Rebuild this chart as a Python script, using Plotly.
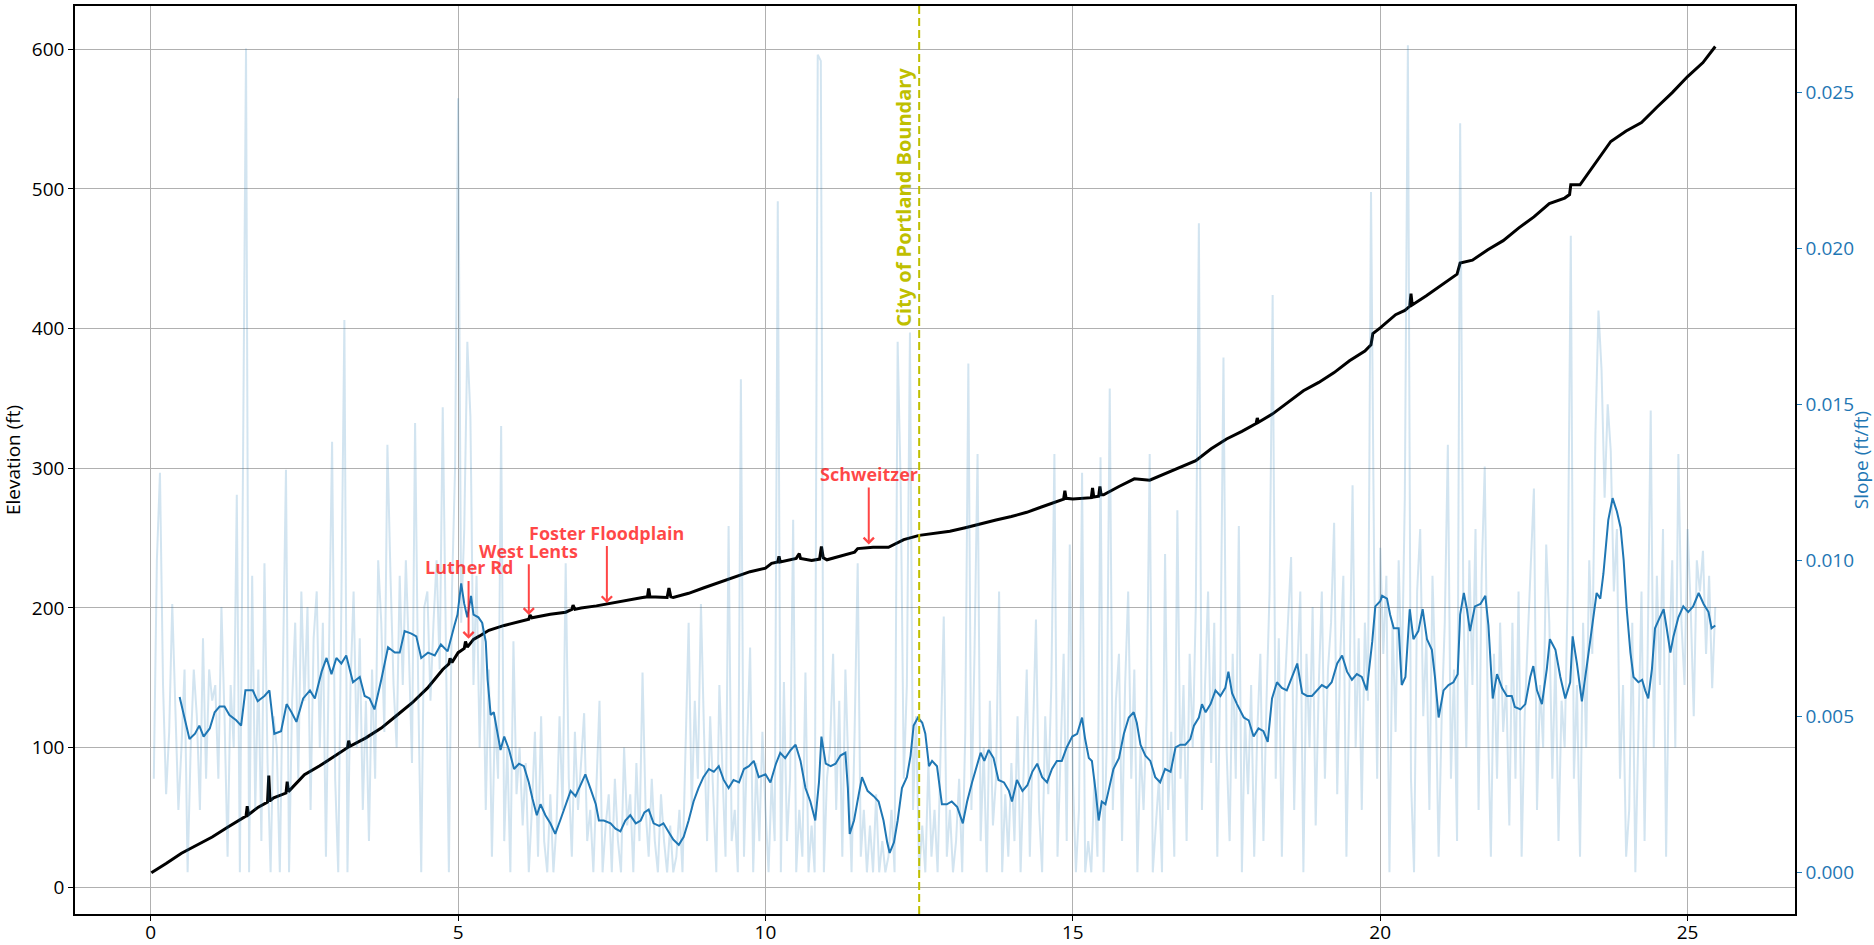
import numpy as np
import plotly.graph_objects as go

# ---------------- data ----------------
# Elevation profile along the route (miles, ft)
elev_x = [0.01,0.25,0.5,0.75,1.0,1.25,1.45,1.55,1.57,1.59,1.75,1.90,1.92,1.94,2.0,
          2.2,2.22,2.24,2.5,2.75,3.0,3.2,3.22,3.24,3.5,3.75,4.0,4.25,4.5,4.75,
          4.85,4.87,4.9,5.0,5.1,5.12,5.15,5.25,5.35,5.5,5.75,6.0,6.15,6.17,6.2,
          6.5,6.75,6.85,6.87,6.9,7.0,7.25,7.5,7.75,8.0,8.08,8.1,8.12,8.4,8.43,
          8.46,8.5,8.75,9.0,9.25,9.5,9.75,10.0,10.1,10.2,10.22,10.24,10.4,10.5,10.55,
          10.57,10.75,10.88,10.91,10.94,11.0,11.25,11.45,11.5,11.75,12.0,12.25,12.5,12.75,13.0,
          13.25,13.5,13.75,14.0,14.25,14.5,14.75,14.85,14.87,14.89,15.0,15.25,15.3,15.32,15.34,
          15.42,15.44,15.46,15.5,15.75,16.0,16.25,16.5,16.75,17.0,17.25,17.5,17.75,17.98,18.0,
          18.02,18.25,18.5,18.75,19.0,19.25,19.5,19.75,19.85,19.88,20.0,20.25,20.4,20.48,20.5,
          20.52,20.75,21.0,21.25,21.3,21.5,21.75,22.0,22.25,22.5,22.75,23.0,23.08,23.1,23.25,
          23.5,23.75,24.0,24.25,24.5,24.75,25.0,25.25,25.45]
elev_ft = [10.5,17,24.4,30,36,43,48.5,51,58,52,57.4,61,80,62,64,
           67.5,75.6,68.5,80.6,87,94.2,100,105,101,107,114,123,132,142.6,156,
           160,164,161,168,171,176,172,177.5,180,184,187.5,190.3,192,195,193,
           195.5,197,199,202,199,200,201.5,203.5,206,207.5,208,214,208,207.5,214.3,
           208,207.5,210.5,214.5,218.5,222,226,228.5,232,233,237,233,234.5,235.5,239,
           235.5,234,235,244,236,234.5,237.5,240,242.5,243.5,243.5,249,252,253.5,255,
           257.5,260.5,263,265.5,268.5,272.5,276.5,278,284,278.5,278,278.5,279,286,279.5,
           280,287,281,281,287,292.5,291.5,296,300.5,305.5,314,321,326.5,332,336,
           333,339,347,355.5,361.5,368.5,377,384,388.5,396.5,400.5,410,413,416,425,
           417,423.5,431.5,439,447,449,456.5,463,472,480,489.5,493.5,496,503,503,
           518.5,534,541.5,547.5,558.5,569,580.5,590.5,602]

# Raw slope, sampled every 0.05 mi starting at 0.05 mi (values in 1/1000 ft/ft)
raw_x_start = 0.05
raw_x_step = 0.05
raw_slope_permille = [
    3.0,10.0,12.8,6.0,2.5,4.5,8.6,5.5,2.0,4.0,6.5,0.0,4.0,6.5,5.0,2.0,7.5,3.0,6.5,5.5,
    6.0,3.0,8.5,5.0,0.5,6.0,4.0,12.1,0.0,12.8,26.4,0.0,9.5,2.0,6.5,1.0,9.9,3.5,0.0,5.0,
    4.0,0.0,7.0,12.9,0.0,5.5,8.0,3.0,9.0,5.5,8.5,2.0,7.5,9.0,4.0,8.0,0.5,6.5,13.8,3.0,
    0.0,8.5,17.7,0.0,6.0,9.0,4.0,7.5,2.0,5.5,1.0,6.5,3.0,10.0,8.0,4.5,13.7,9.5,6.0,4.0,
    9.5,6.0,10.0,7.0,3.5,14.4,6.0,0.0,8.5,9.0,5.5,8.0,10.0,6.5,14.9,7.5,0.0,9.0,12.9,24.8,
    8.0,11.0,17.0,14.6,6.0,9.5,4.0,8.0,2.0,6.5,0.5,5.0,3.0,14.3,1.0,4.0,0.0,7.4,2.5,4.0,
    1.5,3.5,0.0,2.0,4.5,0.5,5.0,1.0,0.0,2.5,0.0,1.5,5.0,2.0,9.9,3.0,0.5,4.5,2.0,3.5,
    5.1,1.0,2.0,0.0,3.0,5.5,0.0,1.5,2.5,0.0,3.0,1.0,0.0,4.0,1.5,2.5,0.0,3.5,1.0,6.4,
    2.0,0.5,3.0,1.0,0.0,2.5,1.0,0.0,1.5,0.0,0.5,2.0,0.0,4.0,8.0,2.0,5.5,3.0,8.6,4.5,
    1.0,5.0,2.5,0.0,6.0,3.0,0.5,11.1,1.0,2.0,0.0,15.8,0.5,4.0,7.2,0.0,3.5,1.0,4.5,2.0,
    0.0,3.0,1.0,21.5,0.0,6.1,1.0,3.0,11.3,0.0,2.0,0.5,6.4,0.0,1.5,0.0,26.2,26.0,0.0,3.0,
    4.0,7.0,2.0,5.5,0.5,6.5,3.0,0.0,4.5,9.9,0.5,2.0,0.0,1.5,0.0,2.5,0.0,1.0,0.0,0.5,
    2.0,0.0,17.0,12.3,3.0,6.0,17.3,2.0,5.0,0.0,1.5,0.0,3.5,0.5,2.0,0.0,4.0,8.2,0.5,2.0,
    0.0,1.0,3.0,0.0,4.5,16.3,2.0,7.0,13.4,1.0,4.0,0.0,5.5,1.5,3.0,9.0,0.0,2.5,0.5,3.5,
    1.0,5.0,0.0,3.0,6.5,0.5,4.0,8.1,2.0,0.0,5.0,2.5,6.0,13.4,0.5,4.0,7.0,1.0,10.5,3.0,
    0.0,2.0,12.8,0.0,1.0,0.0,3.0,0.5,13.3,0.0,4.0,15.5,2.0,5.5,7.0,1.0,6.0,9.0,3.0,6.5,
    0.0,4.0,2.0,5.0,13.4,0.0,1.5,3.0,0.0,10.2,2.0,4.5,0.5,11.6,3.0,6.0,1.0,7.0,4.0,8.5,
    20.8,2.0,6.0,9.0,3.5,8.0,0.5,6.5,16.5,4.0,1.0,7.0,3.0,11.1,0.0,5.0,2.5,6.0,0.5,4.5,
    7.0,1.0,5.5,9.0,18.5,3.0,7.5,0.5,6.0,8.0,10.1,2.0,6.5,9.0,0.0,7.0,4.0,8.5,1.5,6.0,
    9.0,3.0,6.5,8.0,11.2,2.5,7.0,9.5,0.5,6.0,12.4,4.0,7.5,2.0,8.0,5.5,21.8,10.0,3.0,10.4,
    7.0,9.5,0.0,8.0,4.5,10.0,6.0,12.0,26.5,3.0,0.0,9.0,11.0,5.0,7.5,2.0,9.5,6.0,0.5,5.0,
    8.0,13.7,3.0,6.5,1.0,24.0,9.0,4.0,10.0,6.0,11.0,2.0,9.5,13.0,5.0,0.5,7.0,3.0,8.0,4.5,
    6.0,1.5,8.0,3.0,9.0,0.5,5.0,7.5,10.0,12.3,2.0,6.0,4.0,10.5,8.0,3.0,7.0,1.0,5.5,4.0,
    9.0,20.4,3.0,6.0,0.5,8.0,4.0,10.0,7.0,14.0,18.0,16.1,12.0,15.0,13.5,9.0,11.0,3.0,6.0,0.5,
    2.0,8.0,0.0,5.0,9.0,1.0,7.0,14.8,4.0,9.5,6.0,11.0,0.5,7.0,10.0,4.0,13.4,8.0,6.0,11.0,
    8.5,5.0,10.0,9.0,10.3,7.0,9.5,5.9,8.5]

# Smoothed (rolling) slope (values in 1/1000 ft/ft)
smooth_x = [
    0.47,0.55,0.63,0.72,0.79,0.86,0.96,1.04,1.12,1.20,1.28,1.39,1.47,1.54,1.66,1.74,1.85,1.93,2.01,2.12,
    2.21,2.29,2.37,2.48,2.59,2.67,2.78,2.86,2.94,3.02,3.10,3.18,3.29,3.40,3.48,3.56,3.64,3.75,3.86,3.97,
    4.05,4.13,4.24,4.32,4.40,4.51,4.62,4.72,4.83,4.94,
    4.99,5.05,5.10,5.15,5.21,5.25,5.33,5.39,5.45,5.48,5.53,5.58,5.64,5.69,5.75,5.83,5.91,5.99,6.07,6.15,
    6.21,6.28,6.34,6.42,6.50,6.58,6.66,6.74,6.83,6.91,6.99,7.07,7.15,7.24,7.29,7.37,7.48,7.56,7.64,7.72,
    7.80,7.89,7.97,8.03,8.10,8.18,8.27,8.34,8.42,8.50,8.59,8.67,8.75,8.83,8.91,8.99,9.08,9.16,9.24,9.32,
    9.40,9.48,9.57,9.65,9.73,9.81,9.89,
    10.00,10.08,10.17,10.24,10.32,10.41,10.49,10.57,10.65,10.73,10.81,10.87,10.91,10.98,11.06,11.14,11.22,11.30,11.34,11.37,
    11.44,11.52,11.57,11.66,11.76,11.84,11.92,11.98,12.02,12.09,12.15,12.22,12.30,12.36,12.41,12.48,12.55,12.60,12.66,12.71,
    12.79,12.87,12.95,13.03,13.12,13.21,13.28,13.36,13.44,13.50,13.56,13.63,13.71,13.79,13.88,13.96,14.01,14.09,14.18,14.26,
    14.34,14.42,14.50,14.58,14.66,14.74,14.82,14.90,14.99,
    15.07,15.15,15.20,15.26,15.31,15.37,15.42,15.47,15.53,15.58,15.66,15.75,15.83,15.91,15.99,16.04,16.10,16.18,16.26,16.34,
    16.42,16.50,16.59,16.67,16.75,16.83,16.91,16.97,17.05,17.10,17.16,17.24,17.32,17.40,17.48,17.53,17.59,17.67,17.78,17.86,
    17.94,18.02,18.10,18.17,18.24,18.32,18.40,18.48,18.56,18.65,18.73,18.81,18.89,18.97,19.05,19.13,19.21,19.30,19.38,19.46,
    19.54,19.62,19.70,19.78,19.87,19.92,
    20.00,20.03,20.11,20.16,20.22,20.30,20.35,20.41,20.48,20.54,20.62,20.69,20.76,20.84,20.89,20.95,21.03,21.11,21.19,21.26,
    21.30,21.36,21.41,21.46,21.54,21.63,21.71,21.76,21.83,21.90,21.98,22.06,22.14,22.19,22.28,22.36,22.44,22.49,22.55,22.63,
    22.71,22.76,22.85,22.93,23.01,23.09,23.13,23.20,23.28,23.36,23.44,23.52,23.58,23.63,23.71,23.78,23.85,23.91,23.96,24.01,
    24.07,24.12,24.20,24.26,24.31,24.36,24.42,24.47,24.53,24.61,24.66,24.72,24.77,24.85,24.93,25.01,25.09,25.18,25.26,25.34,
    25.39,25.45]
smooth_slope_permille = [
    5.62,4.96,4.27,4.44,4.70,4.35,4.61,5.13,5.31,5.31,5.04,4.87,4.70,5.83,5.83,5.48,5.65,5.83,4.44,4.52,
    5.39,5.13,4.82,5.57,5.83,5.57,6.43,6.87,6.35,6.87,6.69,6.95,6.09,6.26,5.65,5.57,5.22,6.17,7.21,7.04,
    7.04,7.73,7.65,7.56,6.87,7.04,6.95,7.30,7.08,7.91,
    8.26,9.26,8.60,8.17,8.86,8.26,8.17,8.00,7.39,6.17,5.04,5.13,4.44,3.92,4.35,3.92,3.31,3.48,3.40,2.88,
    2.36,1.83,2.18,1.83,1.57,1.23,1.66,2.09,2.61,2.44,2.79,3.14,2.70,2.18,1.66,1.66,1.57,1.40,1.31,1.66,
    1.83,1.57,1.66,1.92,2.01,1.57,1.49,1.57,1.31,1.05,0.88,1.14,1.66,2.27,2.70,3.05,3.31,3.22,3.40,2.96,
    2.70,2.96,2.88,3.31,3.40,3.57,3.05,
    3.14,2.88,3.48,3.83,3.66,3.92,4.09,3.57,2.70,2.27,1.66,2.88,4.35,3.48,3.40,3.48,3.74,3.83,2.70,1.23,
    1.66,2.53,3.05,2.61,2.44,2.27,1.66,0.96,0.62,0.96,1.66,2.70,3.05,3.74,4.70,4.96,4.79,4.44,3.40,3.57,
    3.40,2.18,2.18,2.27,2.09,1.57,2.27,2.88,3.40,3.83,3.57,3.92,3.66,2.96,2.88,2.61,2.27,2.96,2.61,2.79,
    3.22,3.48,3.05,2.88,3.31,3.57,3.57,4.00,4.35,
    4.44,4.96,4.27,3.66,3.57,2.61,1.66,2.27,2.18,2.61,3.31,3.66,4.44,4.96,5.13,4.79,4.09,3.74,3.57,3.05,
    2.88,3.31,3.22,4.00,4.09,4.09,4.27,4.70,4.96,5.39,5.13,5.39,5.83,5.65,5.91,6.43,5.74,5.39,4.96,4.87,
    4.35,4.61,4.52,4.18,5.57,6.09,5.91,5.83,6.26,6.69,5.74,5.65,5.65,5.83,6.00,5.91,6.09,6.69,6.95,6.43,
    6.17,6.35,6.26,5.83,7.39,8.52,
    8.69,8.86,8.77,8.26,7.82,7.82,6.00,6.26,8.43,7.47,7.73,8.43,7.47,7.13,6.26,4.96,5.83,6.00,6.09,6.35,
    8.26,8.95,8.43,7.73,8.52,8.60,8.86,7.91,5.57,6.35,5.91,5.65,5.65,5.30,5.22,5.39,6.26,6.61,5.83,5.39,
    6.52,7.47,7.13,6.26,5.57,6.09,7.56,6.69,5.48,6.61,7.73,8.95,8.77,9.56,11.29,11.99,11.56,11.04,10.00,8.43,
    7.04,6.26,6.09,6.17,5.83,5.57,6.52,7.82,8.09,8.43,7.82,7.04,7.56,8.17,8.52,8.34,8.52,8.95,8.60,8.34,
    7.82,7.91]

# Labelled places (arrow tip x in miles)
annot_labels = ["Luther Rd", "West Lents", "Foster Floodplain", "Schweitzer"]
annot_x = [5.17, 6.15, 7.42, 11.68]
annot_tip_y = [178, 195, 203.5, 245.5]
annot_text_y = [229, 241, 254, 296]

boundary_x = 12.5
boundary_label = "City of Portland Boundary"
boundary_label_y = 400

# ---------------- derived series (unit conversion / sample grid) ----------------
raw_x = np.round(raw_x_start + raw_x_step * np.arange(len(raw_slope_permille)), 3)
raw_slope = np.array(raw_slope_permille) / 1000.0
smooth_slope = np.array(smooth_slope_permille) / 1000.0

FONT = "Open Sans"
BLUE = "#1f77b4"
RED = "rgba(255,0,0,0.72)"
OLIVE = "#bfbf00"
GRID = "#b0b0b0"
FS = 19

fig = go.Figure()
fig.add_trace(go.Scatter(x=elev_x, y=elev_ft, mode="lines",
                         line=dict(color="black", width=3), yaxis="y",
                         showlegend=False))
fig.add_trace(go.Scatter(x=raw_x, y=raw_slope, mode="lines",
                         line=dict(color="rgba(31,119,180,0.2)", width=2), yaxis="y2",
                         showlegend=False))
fig.add_trace(go.Scatter(x=smooth_x, y=smooth_slope, mode="lines",
                         line=dict(color=BLUE, width=2), yaxis="y2",
                         showlegend=False))

annotations = []
for lab, ax_, ty, tt in zip(annot_labels, annot_x, annot_tip_y, annot_text_y):
    annotations.append(dict(
        x=ax_, y=ty, xref="x", yref="y", ax=ax_, ay=tt, axref="x", ayref="y",
        text="<b>%s</b>" % lab, showarrow=True, arrowhead=4, arrowsize=1,
        arrowwidth=2, arrowcolor=RED, standoff=0,
        font=dict(family=FONT, size=18, color=RED)))
annotations.append(dict(
    x=boundary_x, y=boundary_label_y, xref="x", yref="y",
    text="<b>%s</b>" % boundary_label, textangle=-90, showarrow=False,
    xanchor="right", yanchor="bottom", xshift=-1,
    font=dict(family=FONT, size=20, color=OLIVE)))

fig.update_layout(
    width=1874, height=945, autosize=False,
    margin=dict(l=75, r=79, t=6, b=31, autoexpand=False),
    paper_bgcolor="white", plot_bgcolor="white",
    font=dict(family=FONT, size=FS, color="black"),
    showlegend=False,
    xaxis=dict(range=[-1.232, 26.747], tick0=0, dtick=5, showgrid=True,
               gridcolor=GRID, gridwidth=1, zeroline=False,
               showline=True, linecolor="black", linewidth=1.5, mirror=True,
               ticks="outside", ticklen=5, tickwidth=1.3, tickcolor="black",
               ticklabelstandoff=-5,
               tickfont=dict(family=FONT, size=FS, color="black")),
    yaxis=dict(range=[-19.1, 631], tick0=0, dtick=100, showgrid=True,
               gridcolor=GRID, gridwidth=1, zeroline=False,
               showline=True, linecolor="black", linewidth=1.5,
               ticks="outside", ticklen=5, tickwidth=1.3, tickcolor="black",
               tickfont=dict(family=FONT, size=FS, color="black"),
               title=dict(text="Elevation (ft)", standoff=8,
                          font=dict(family=FONT, size=FS, color="black"))),
    yaxis2=dict(overlaying="y", side="right", anchor="x",
                range=[-0.001336, 0.02776], tick0=0, dtick=0.005, tickformat=".3f",
                showgrid=False, zeroline=False,
                showline=True, linecolor="black", linewidth=1.5,
                ticks="outside", ticklen=5, tickwidth=1.3, tickcolor=BLUE,
                tickfont=dict(family=FONT, size=FS, color=BLUE),
                title=dict(text="Slope (ft/ft)", standoff=1,
                           font=dict(family=FONT, size=FS, color=BLUE))),
    shapes=[dict(type="line", xref="x", yref="paper", x0=boundary_x, x1=boundary_x,
                 y0=0, y1=1, line=dict(color=OLIVE, width=2, dash="8px,4px"),
                 layer="above")],
    annotations=annotations,
)

fig.write_html("out.html", config={"displayModeBar": False},
               post_script="document.body.style.margin='0';document.body.style.overflow='hidden';")
